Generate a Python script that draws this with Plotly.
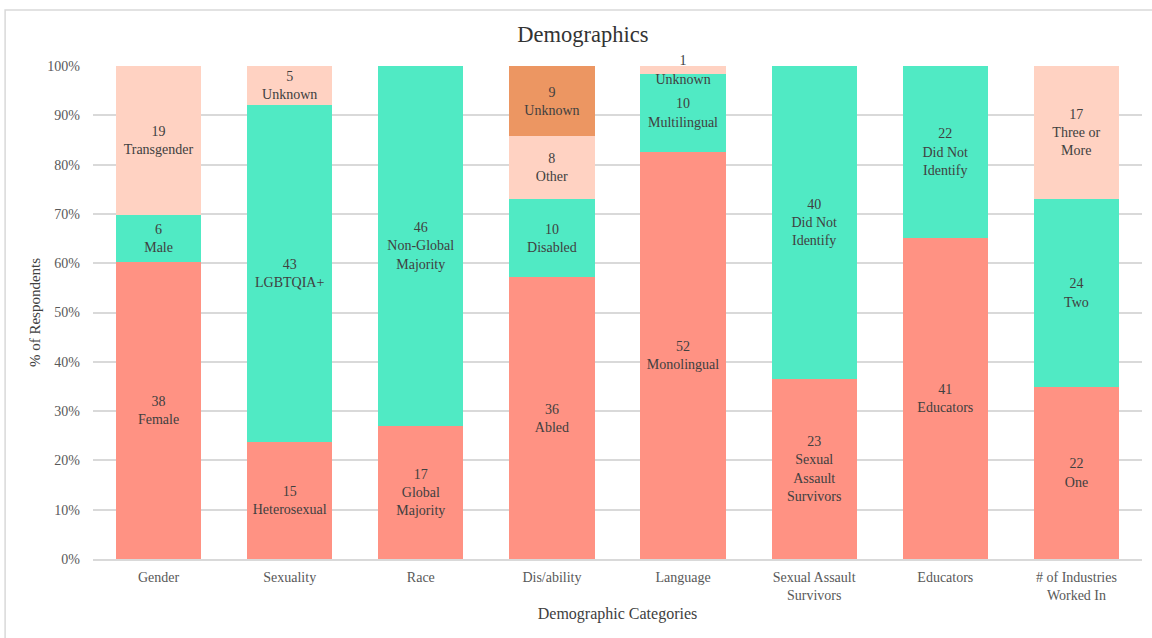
import plotly.graph_objects as go

categories = ["Gender", "Sexuality", "Race", "Dis/ability", "Language",
              "Sexual Assault<br>Survivors", "Educators", "# of Industries<br>Worked In"]

level1_values = [38, 15, 17, 36, 52, 23, 41, 22]
level1_labels = ["Female", "Heterosexual", "Global<br>Majority", "Abled", "Monolingual",
                 "Sexual<br>Assault<br>Survivors", "Educators", "One"]

level2_values = [6, 43, 46, 10, 10, 40, 22, 24]
level2_labels = ["Male", "LGBTQIA+", "Non-Global<br>Majority", "Disabled", "Multilingual",
                 "Did Not<br>Identify", "Did Not<br>Identify", "Two"]

level3_values = [19, 5, None, 8, 1, None, None, 17]
level3_labels = ["Transgender", "Unknown", "", "Other", "Unknown", "", "", "Three or<br>More"]

level4_values = [None, None, None, 9, None, None, None, None]
level4_labels = ["", "", "", "Unknown", "", "", "", ""]

colors = ["#FF9283", "#50EAC4", "#FFD2C2", "#EC9662"]

FONT = "Liberation Serif, Times New Roman, serif"

fig = go.Figure()
levels = [(level1_values, level1_labels), (level2_values, level2_labels),
          (level3_values, level3_labels), (level4_values, level4_labels)]
for (vals, labs), col in zip(levels, colors):
    texts = [f"{v}<br>{l}" if v is not None else "" for v, l in zip(vals, labs)]
    fig.add_trace(go.Bar(
        x=categories, y=vals, text=texts, textposition="inside",
        insidetextanchor="middle", constraintext="none",
        texttemplate="%{text}", cliponaxis=False,
        textfont=dict(family=FONT, size=14, color="#404040"),
        marker=dict(color=col, line=dict(width=0)),
        hoverinfo="skip", showlegend=False,
    ))

fig.update_layout(
    barmode="stack", barnorm="percent", bargap=0.35,
    width=1152, height=638,
    margin=dict(l=93, r=10, t=66, b=79),
    paper_bgcolor="white", plot_bgcolor="white",
    font=dict(family=FONT, color="#595959", size=14),
    uniformtext=dict(minsize=14, mode="show"),
    title=dict(text="Demographics", x=0.506, xref="container", y=0.946, yref="container",
               xanchor="center", yanchor="middle",
               font=dict(family=FONT, size=22.5, color="#333333")),
    xaxis=dict(title=dict(text="Demographic Categories", standoff=6,
                          font=dict(size=16, color="#404040")),
               showgrid=False, showline=True, linecolor="#d9d9d9", linewidth=1.5,
               ticks="", ticklabelstandoff=4, tickfont=dict(size=14, color="#595959")),
    yaxis=dict(title=dict(text="% of Respondents", standoff=3,
                          font=dict(size=15, color="#404040")),
               range=[0, 100], dtick=10, ticksuffix="%",
               showgrid=True, gridcolor="#d9d9d9", gridwidth=1.5,
               zeroline=False, ticks="", ticklabelstandoff=12,
               tickfont=dict(size=14, color="#595959")),
    shapes=[dict(type="rect", xref="paper", yref="paper",
                 x0=-0.0838, x1=1.2, y0=-0.3, y1=1.1136,
                 line=dict(color="#d9d9d9", width=1.5), fillcolor="rgba(0,0,0,0)",
                 layer="below")],
)

fig.write_html("out.html")
